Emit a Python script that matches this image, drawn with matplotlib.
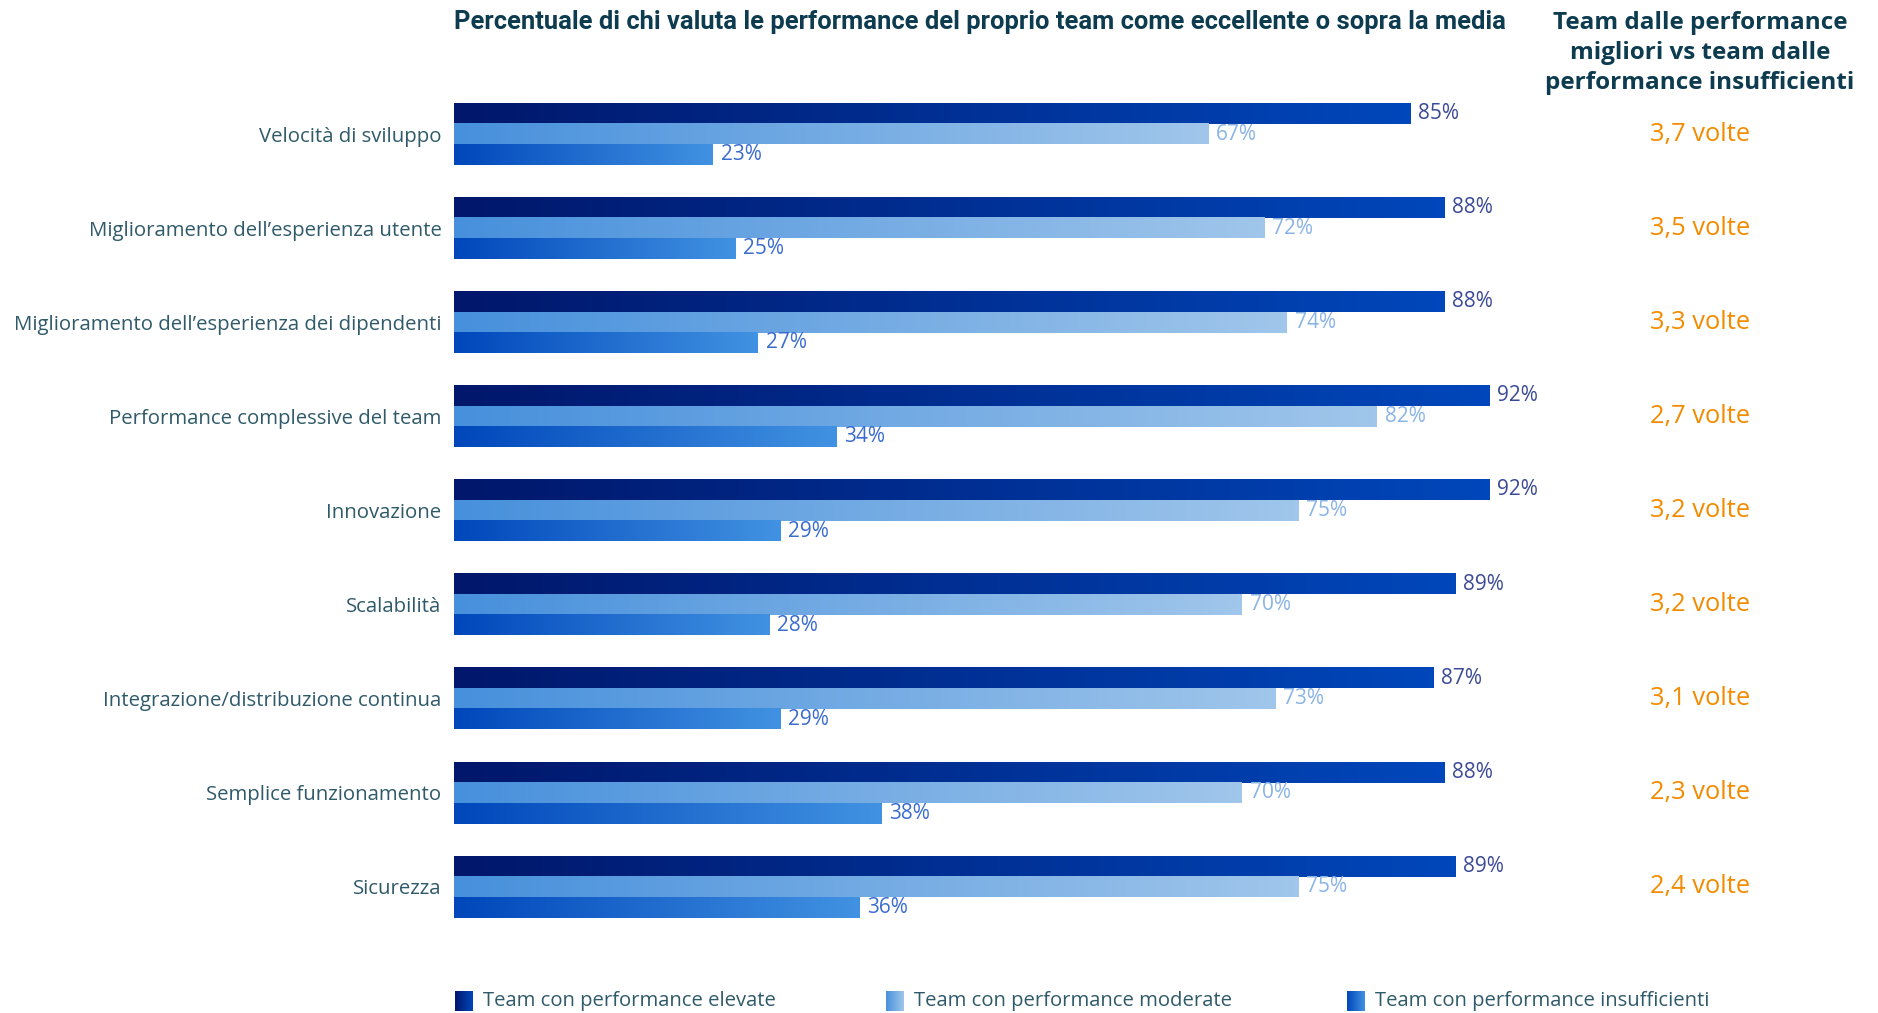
import matplotlib
matplotlib.use("Agg")
import matplotlib.pyplot as plt
import numpy as np
from matplotlib.colors import LinearSegmentedColormap
from matplotlib.transforms import blended_transform_factory

plt.rcParams["font.family"] = ["Open Sans", "DejaVu Sans"]

categories = [
    "Velocità di sviluppo",
    "Miglioramento dell’esperienza utente",
    "Miglioramento dell’esperienza dei dipendenti",
    "Performance complessive del team",
    "Innovazione",
    "Scalabilità",
    "Integrazione/distribuzione continua",
    "Semplice funzionamento",
    "Sicurezza",
]
high = [85, 88, 88, 92, 92, 89, 87, 88, 89]
moderate = [67, 72, 74, 82, 75, 70, 73, 70, 75]
low = [23, 25, 27, 34, 29, 28, 29, 38, 36]
ratios = ["3,7 volte", "3,5 volte", "3,3 volte", "2,7 volte", "3,2 volte",
          "3,2 volte", "3,1 volte", "2,3 volte", "2,4 volte"]
series_names = [
    "Team con performance elevate",
    "Team con performance moderate",
    "Team con performance insufficienti",
]

title = "Percentuale di chi valuta le performance del proprio team come eccellente o sopra la media"
side_title = "Team dalle performance\nmigliori vs team dalle\nperformance insufficienti"

# gradient end points (left -> right) and value label colour per series
grad_colors = [("#00176b", "#0047bb"), ("#4790dc", "#a0c6eb"), ("#0047bb", "#4192e2")]
label_colors = ["#3b4a96", "#8ab4e6", "#3a6ccf"]
TEXT = "#2f5a6a"
DARK = "#0d3b4f"
ORANGE = "#f38b00"

W, H = 1878, 1013
fig = plt.figure(figsize=(W / 100, H / 100), dpi=100)
ax = fig.add_axes([454 / W, 1 - 934 / H, 1086 / W, 847 / H])

bar_h = 0.218
offsets = [-bar_h, 0.0, bar_h]
cmaps = [LinearSegmentedColormap.from_list(f"g{i}", c) for i, c in enumerate(grad_colors)]
grad = np.linspace(0, 1, 256).reshape(1, -1)

for s, vals in enumerate([high, moderate, low]):
    for i, v in enumerate(vals):
        y = i + offsets[s]
        ax.imshow(grad, cmap=cmaps[s], aspect="auto", interpolation="bilinear",
                  extent=[0, v, y + bar_h / 2, y - bar_h / 2])
        ax.text(v + 0.7, y, f"{v}%", va="center", ha="left",
                fontsize=15, color=label_colors[s])

ax.set_xlim(0, 96.5)
ax.set_ylim(len(categories) - 0.5, -0.5)
ax.set_yticks(range(len(categories)))
ax.set_yticklabels(categories, fontsize=14.7, color=TEXT)
ax.tick_params(axis="y", length=0, pad=9)
ax.set_xticks([])
for sp in ax.spines.values():
    sp.set_visible(False)

# ratio column on the right
tr = blended_transform_factory(fig.transFigure, ax.transData)
for i, r in enumerate(ratios):
    ax.text(1700 / W, i, r, transform=tr, ha="center", va="center",
            fontsize=18.4, color=ORANGE)

fig.text(454 / W, 1 - 22 / H, title, ha="left", va="center",
         fontsize=18.4, fontweight="bold", color=DARK, family="Roboto")
fig.text(1700 / W, 1 - 53 / H, side_title, ha="center", va="center",
         fontsize=17.5, fontweight="bold", color=DARK, linespacing=1.34)

# legend with small gradient swatches
legend_x = [455, 886, 1347]
for s, name in enumerate(series_names):
    sw = fig.add_axes([legend_x[s] / W, 1 - 1011 / H, 18 / W, 20 / H])
    sw.imshow(grad, cmap=cmaps[s], aspect="auto")
    sw.axis("off")
    fig.text((legend_x[s] + 28) / W, 1 - 1001 / H, name, ha="left", va="center",
             fontsize=14.6, color=TEXT)

fig.savefig("out.png", dpi=100, facecolor="white")
